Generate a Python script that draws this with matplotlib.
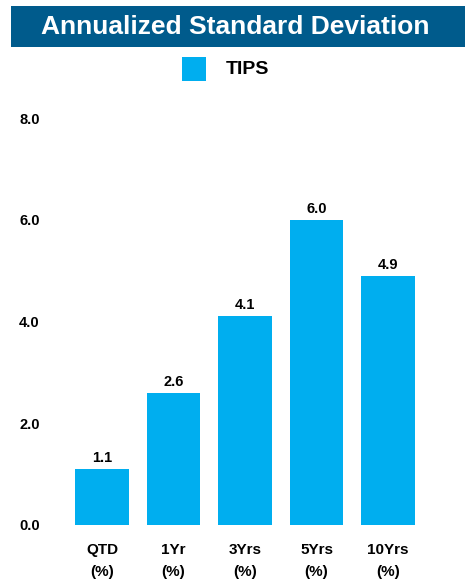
import matplotlib
matplotlib.use("Agg")
import matplotlib.pyplot as plt
from matplotlib.patches import Rectangle

categories = ["QTD\n(%)", "1Yr\n(%)", "3Yrs\n(%)", "5Yrs\n(%)", "10Yrs\n(%)"]
tips_values = [1.1, 2.6, 4.1, 6.0, 4.9]
y_ticks = [0.0, 2.0, 4.0, 6.0, 8.0]

BAR_COLOR = "#00AEEF"
HEADER_COLOR = "#005B8C"
FONT = ["Liberation Sans", "DejaVu Sans"]

W, H = 465, 582
fig = plt.figure(figsize=(W / 100, H / 100), dpi=100)
fig.patch.set_facecolor("white")

# header band with title
fig.patches.append(Rectangle((11 / W, 1 - 47 / H), (W - 11) / W, 41 / H,
                             transform=fig.transFigure, facecolor=HEADER_COLOR,
                             edgecolor="none"))
fig.text(235 / W, 1 - 27 / H, "Annualized Standard Deviation", color="white",
         fontsize=19, fontweight="bold", family=FONT, ha="center", va="center")

# legend
fig.patches.append(Rectangle((182 / W, 1 - 81 / H), 24 / W, 24 / H,
                             transform=fig.transFigure, facecolor=BAR_COLOR,
                             edgecolor="none"))
fig.text(226 / W, 1 - 69 / H, "TIPS", color="black", fontsize=14,
         fontweight="bold", family=FONT, ha="left", va="center")

ax = fig.add_axes([66.25 / W, 57 / H, 357.5 / W, 407 / H])
x = range(len(categories))
bars = ax.bar(x, tips_values, width=0.755, color=BAR_COLOR)
ax.set_xlim(-0.5, len(categories) - 0.5)
ax.set_ylim(0, 8)
ax.set_yticks(y_ticks)
ax.set_yticklabels([f"{v:.1f}" for v in y_ticks], fontsize=10.5,
                   fontweight="bold", family=FONT)
ax.set_xticks(list(x))
ax.set_xticklabels(categories, fontsize=11, fontweight="bold", family=FONT,
                   linespacing=1.7)
ax.tick_params(axis="y", length=0, pad=19)
ax.tick_params(axis="x", length=0, pad=13)
for s in ax.spines.values():
    s.set_visible(False)

for b, v in zip(bars, tips_values):
    ax.annotate(f"{v:.1f}", (b.get_x() + b.get_width() / 2, v),
                xytext=(0, 3), textcoords="offset points", ha="center",
                va="bottom", fontsize=10.5, fontweight="bold", family=FONT)

fig.savefig("out.png", dpi=100)
